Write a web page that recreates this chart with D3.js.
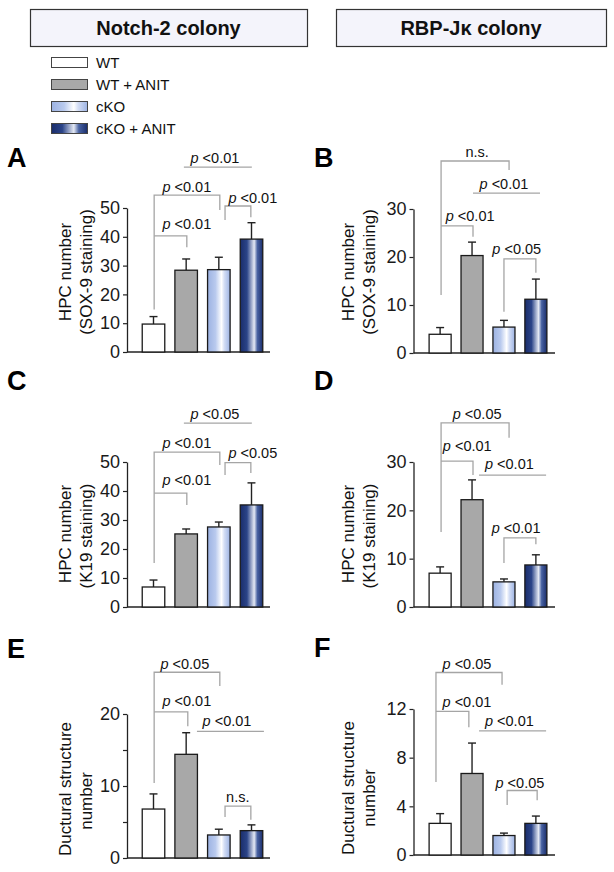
<!DOCTYPE html>
<html><head><meta charset="utf-8">
<script src="https://cdn.jsdelivr.net/npm/d3@7"></script>
<style>body{margin:0;background:#fff}svg{display:block;font-family:"Liberation Sans",Arial,sans-serif}</style>
</head><body>
<script>
// ---------- data ----------
const categories = ["WT", "WT + ANIT", "cKO", "cKO + ANIT"];
const colonyTitles = ["Notch-2 colony", "RBP-J\u03ba colony"];

const sox9Notch2 = [9.7, 28.4, 28.6, 39.2];
const sox9Notch2Err = [2.6, 3.9, 4.3, 5.7];
const sox9Rbpj = [3.9, 20.3, 5.4, 11.2];
const sox9RbpjErr = [1.4, 2.8, 1.4, 4.2];
const k19Notch2 = [6.9, 25.2, 27.6, 35.2];
const k19Notch2Err = [2.4, 1.7, 1.7, 7.6];
const k19Rbpj = [7.0, 22.2, 5.2, 8.7];
const k19RbpjErr = [1.3, 4.1, 0.6, 2.1];
const ductNotch2 = [6.8, 14.4, 3.2, 3.8];
const ductNotch2Err = [2.1, 3.0, 0.8, 0.8];
const ductRbpj = [2.6, 6.7, 1.6, 2.6];
const ductRbpjErr = [0.8, 2.5, 0.2, 0.6];

const ticksA = [0, 10, 20, 30, 40, 50];
const ticksB = [0, 10, 20, 30];
const ticksC = [0, 10, 20, 30, 40, 50];
const ticksD = [0, 10, 20, 30];
const ticksE = [0, 10, 20];
const minorTicksE = [5, 15];
const ticksF = [0, 4, 8, 12];

// significance brackets: text position (bar index, value) and polyline in (bar index, value)
const annA = [
  {label: "p <0.01", tx: 1.88, ty: 65.6, path: [[0.93, 64.2], [3.01, 64.2]]},
  {label: "p <0.01", tx: 1.02, ty: 55.4, path: [[0.02, 14.8], [0.02, 54.5], [2.03, 54.5], [2.03, 49.3]]},
  {label: "p <0.01", tx: 1.02, ty: 42.6, path: [[0.02, 40.3], [1.02, 40.3], [1.02, 36.4]]},
  {label: "p <0.01", tx: 3.04, ty: 51.8, path: [[2.19, 45.8], [2.19, 50.7], [2.98, 50.7], [2.98, 46.8]]}
];
const annB = [
  {label: "n.s.", tx: 1.16, ty: 40.8, path: [[0.03, 12.1], [0.03, 40.0], [2.16, 40.0], [2.16, 38.1]]},
  {label: "p <0.01", tx: 2.0, ty: 34.2, path: [[1.03, 33.3], [3.13, 33.3]]},
  {label: "p <0.01", tx: 0.94, ty: 27.5, path: [[0.03, 26.5], [1.03, 26.5], [1.03, 24.2]]},
  {label: "p <0.05", tx: 2.4, ty: 20.6, path: [[2.0, 8.6], [2.0, 19.6], [3.0, 19.6], [3.0, 16.7]]}
];
const annC = [
  {label: "p <0.05", tx: 1.88, ty: 64.8, path: [[0.93, 63.4], [3.01, 63.4]]},
  {label: "p <0.01", tx: 1.02, ty: 54.8, path: [[0.02, 15.2], [0.02, 53.4], [2.03, 53.4], [2.03, 49.0]]},
  {label: "p <0.01", tx: 1.02, ty: 42.0, path: [[0.02, 39.3], [1.02, 39.3], [1.02, 35.2]]},
  {label: "p <0.05", tx: 3.04, ty: 51.4, path: [[2.19, 45.5], [2.19, 49.8], [2.98, 49.8], [2.98, 46.2]]}
];
const annD = [
  {label: "p <0.05", tx: 1.16, ty: 38.9, path: [[0.03, 15.5], [0.03, 38.1], [2.16, 38.1], [2.16, 35.0]]},
  {label: "p <0.01", tx: 0.85, ty: 32.3, path: [[0.03, 30.2], [1.03, 30.2], [1.03, 27.3]]},
  {label: "p <0.01", tx: 2.17, ty: 28.6, path: [[1.22, 27.3], [3.32, 27.3]]},
  {label: "p <0.01", tx: 2.38, ty: 15.3, path: [[2.0, 9.1], [2.0, 14.3], [3.0, 14.3], [3.0, 13.0]]}
];
const annE = [
  {label: "p <0.05", tx: 0.96, ty: 26.3, path: [[0.02, 10.4], [0.02, 25.8], [2.03, 25.8], [2.03, 23.9]]},
  {label: "p <0.01", tx: 1.02, ty: 21.1, path: [[0.02, 20.3], [1.05, 20.3], [1.05, 18.3]]},
  {label: "p <0.01", tx: 2.25, ty: 18.3, path: [[1.33, 17.6], [3.38, 17.6]]},
  {label: "n.s.", tx: 2.58, ty: 7.8, path: [[2.19, 5.7], [2.19, 7.2], [2.98, 7.2], [2.98, 5.3]]}
];
const annF = [
  {label: "p <0.05", tx: 0.84, ty: 15.3, path: [[-0.13, 6.0], [-0.13, 15.0], [1.94, 15.0], [1.94, 14.0]]},
  {label: "p <0.01", tx: 0.84, ty: 12.2, path: [[-0.13, 11.8], [0.9, 11.8], [0.9, 10.5]]},
  {label: "p <0.01", tx: 2.17, ty: 10.6, path: [[1.22, 10.2], [3.32, 10.2]]},
  {label: "p <0.05", tx: 2.5, ty: 5.5, path: [[2.1, 4.1], [2.1, 5.3], [3.04, 5.3], [3.04, 4.5]]}
];

const ylabSox9 = ["HPC number", "(SOX-9 staining)"];
const ylabK19 = ["HPC number", "(K19 staining)"];
const ylabDuct = ["Ductural structure", "number"];

// ---------- layout ----------
const W = 614, H = 872;
const svg = d3.select("body").append("svg").attr("width", W).attr("height", H);
const defs = svg.append("defs");
function grad(id, stops) {
  const g = defs.append("linearGradient").attr("id", id).attr("x1", 0).attr("x2", 1).attr("y1", 0).attr("y2", 0);
  stops.forEach(s => g.append("stop").attr("offset", s[0]).attr("stop-color", s[1]));
}
grad("gCKO", [[0, "#9cb2e2"], [0.35, "#b9caee"], [0.62, "#ffffff"], [0.74, "#d4def5"], [1, "#9db3e3"]]);
grad("gCKOA", [[0, "#1a2d6b"], [0.3, "#2b4488"], [0.62, "#e4e9f4"], [0.76, "#4862a2"], [1, "#1a2d6b"]]);
const fills = ["#ffffff", "#a8a8a8", "url(#gCKO)", "url(#gCKOA)"];

const cols = [
  {axisX: 127, endX: 270, band: [137, 268], letterX: 7, labX: [65, 86], boxX: [30, 307]},
  {axisX: 413.5, endX: 555, band: [424, 552], letterX: 314, labX: [348, 369], boxX: [336, 606]}
];

// title boxes
cols.forEach((c, i) => {
  svg.append("rect").attr("x", c.boxX[0] + 0.5).attr("y", 9.5).attr("width", c.boxX[1] - c.boxX[0]).attr("height", 37)
    .attr("fill", "#f4f4fb").attr("stroke", "#333").attr("stroke-width", 1.2);
  svg.append("text").attr("x", (c.boxX[0] + c.boxX[1]) / 2).attr("y", 35).attr("text-anchor", "middle")
    .attr("font-weight", "bold").attr("font-size", 20).attr("fill", "#111").text(colonyTitles[i]);
});

// legend
const legTops = [57, 79, 101, 123];
categories.forEach((c, i) => {
  svg.append("rect").attr("x", 51.5).attr("y", legTops[i] + 0.5).attr("width", 36).attr("height", 10)
    .attr("fill", fills[i]).attr("stroke", "#444").attr("stroke-width", 1);
  svg.append("text").attr("x", 96).attr("y", legTops[i] + 10.5).attr("font-size", 15).attr("fill", "#111").text(c);
});

const panels = [
  {letter: "A", col: 0, top: 208, zero: 352, max: 50, ticks: ticksA, minor: [], vals: sox9Notch2, err: sox9Notch2Err, ann: annA, lab: ylabSox9, labY: [272, 272], letterY: 167},
  {letter: "B", col: 1, top: 209, zero: 353, max: 30, ticks: ticksB, minor: [], vals: sox9Rbpj, err: sox9RbpjErr, ann: annB, lab: ylabSox9, labY: [272, 272], letterY: 167},
  {letter: "C", col: 0, top: 462, zero: 607, max: 50, ticks: ticksC, minor: [], vals: k19Notch2, err: k19Notch2Err, ann: annC, lab: ylabK19, labY: [534, 536], letterY: 390},
  {letter: "D", col: 1, top: 462, zero: 607, max: 30, ticks: ticksD, minor: [], vals: k19Rbpj, err: k19RbpjErr, ann: annD, lab: ylabK19, labY: [534, 536], letterY: 390},
  {letter: "E", col: 0, top: 714, zero: 858, max: 20, ticks: ticksE, minor: minorTicksE, vals: ductNotch2, err: ductNotch2Err, ann: annE, lab: ylabDuct, labY: [789, 801], letterY: 658},
  {letter: "F", col: 1, top: 709, zero: 855, max: 12, ticks: ticksF, minor: [], vals: ductRbpj, err: ductRbpjErr, ann: annF, lab: ylabDuct, labY: [788, 798], letterY: 657}
];

panels.forEach(p => {
  const c = cols[p.col];
  const g = svg.append("g");
  const x = d3.scaleBand().domain(categories).range(c.band).paddingInner(0.31).paddingOuter(0.16);
  const y = d3.scaleLinear().domain([0, p.max]).range([p.zero, p.top]);
  const bw = x.bandwidth();
  const ax = i => x(categories[0]) + bw / 2 + i * x.step();

  // panel letter
  g.append("text").attr("x", c.letterX).attr("y", p.letterY).attr("font-weight", "bold").attr("font-size", 27).attr("fill", "#000").text(p.letter);

  // y axis
  const yAxis = d3.axisLeft(y).tickValues(p.ticks).tickSize(4).tickSizeOuter(0).tickPadding(3).tickFormat(d3.format("d"));
  const ya = g.append("g").attr("transform", `translate(${c.axisX},0)`).call(yAxis);
  ya.selectAll("text").attr("font-size", 18).attr("fill", "#1a1a1a").attr("font-family", "Liberation Sans, Arial, sans-serif");
  ya.selectAll("line").attr("stroke", "#222").attr("stroke-width", 1.2);
  ya.select(".domain").attr("stroke", "#222").attr("stroke-width", 1.3);
  if (p.minor.length) {
    const ym = d3.axisLeft(y).tickValues(p.minor).tickSize(4).tickSizeOuter(0).tickFormat("");
    const ymg = g.append("g").attr("transform", `translate(${c.axisX},0)`).call(ym);
    ymg.select(".domain").remove();
    ymg.selectAll("line").attr("stroke", "#222").attr("stroke-width", 1.2);
  }
  // x axis baseline
  g.append("line").attr("x1", c.axisX).attr("x2", c.endX).attr("y1", y(0)).attr("y2", y(0))
    .attr("stroke", "#222").attr("stroke-width", 1.5);

  // y label
  p.lab.forEach((t, i) => {
    g.append("text").attr("transform", `translate(${c.labX[i]},${p.labY[i]}) rotate(-90)`)
      .attr("text-anchor", "middle").attr("dy", "0.35em").attr("font-size", 17).attr("fill", "#111").text(t);
  });

  // error bars
  categories.forEach((cat, i) => {
    const cx = x(cat) + bw / 2;
    const yt = y(p.vals[i] + p.err[i]);
    g.append("line").attr("x1", cx).attr("x2", cx).attr("y1", y(p.vals[i])).attr("y2", yt).attr("stroke", "#222").attr("stroke-width", 1.4);
    g.append("line").attr("x1", cx - 4).attr("x2", cx + 4).attr("y1", yt).attr("y2", yt).attr("stroke", "#222").attr("stroke-width", 1.4);
  });
  // bars
  g.selectAll("rect.bar").data(p.vals).join("rect").attr("class", "bar")
    .attr("x", (d, i) => x(categories[i]))
    .attr("y", d => y(d))
    .attr("width", bw)
    .attr("height", d => y(0) - y(d))
    .attr("fill", (d, i) => fills[i])
    .attr("stroke", "#1a1a1a").attr("stroke-width", 1.3);

  // brackets
  const line = d3.line().x(d => ax(d[0])).y(d => y(d[1]));
  p.ann.forEach(a => {
    g.append("path").attr("d", line(a.path)).attr("fill", "none").attr("stroke", "#a5a5a5").attr("stroke-width", 1.3);
    const t = g.append("text").attr("x", ax(a.tx)).attr("y", y(a.ty)).attr("text-anchor", "middle").attr("font-size", 14.5).attr("fill", "#111");
    if (a.label.startsWith("p ")) {
      t.append("tspan").attr("font-style", "italic").text("p");
      t.append("tspan").text(a.label.slice(1));
    } else {
      t.text(a.label);
    }
  });
});
</script>
</body></html>
